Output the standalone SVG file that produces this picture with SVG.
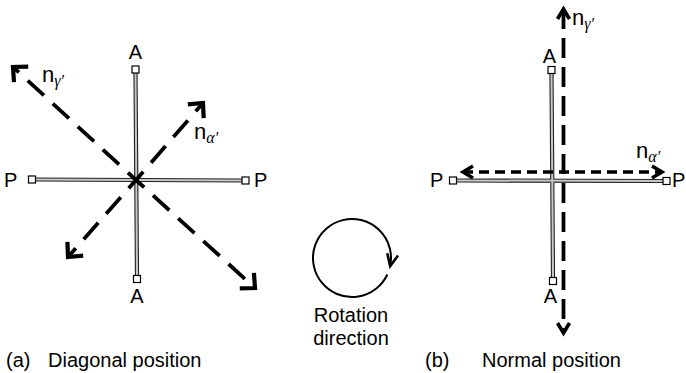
<svg xmlns="http://www.w3.org/2000/svg" width="686" height="373" viewBox="0 0 686 373">
<style>
text{font-family:"Liberation Sans",Arial,sans-serif;font-size:20px;fill:#000}
.lbl{font-size:22px}
.sub{font-family:"Liberation Serif","DejaVu Serif",serif;font-style:italic;font-size:16px}
.sq{fill:#fff;stroke:#000;stroke-width:1.2}
.rod-o{stroke:#222;stroke-width:4.2;fill:none}
.rod-i{stroke:#c8c8c8;stroke-width:2;fill:none}
.dashL{stroke:#000;stroke-width:3.8;fill:none;stroke-dasharray:22 12;stroke-dashoffset:11;marker-end:url(#chev)}
.dashV{stroke:#000;stroke-width:3.8;fill:none;stroke-dasharray:20 9;marker-start:url(#chevS);marker-end:url(#chevS)}
.dashH{stroke:#000;stroke-width:3.6;fill:none;stroke-dasharray:10 6;marker-start:url(#chevS);marker-end:url(#chevS)}
</style>
<defs>
<marker id="chev" markerUnits="userSpaceOnUse" viewBox="-16 -14 20 28" refX="0" refY="0" markerWidth="20" markerHeight="28" orient="auto-start-reverse">
<path d="M-11 -10.5 L0 0 L-11 10.5" fill="none" stroke="#000" stroke-width="4.2"/>
</marker>
<marker id="chevS" markerUnits="userSpaceOnUse" viewBox="-16 -10 20 20" refX="0" refY="0" markerWidth="20" markerHeight="20" orient="auto-start-reverse">
<path d="M-10 -6 L0 0 L-10 6" fill="none" stroke="#000" stroke-width="3.6"/>
</marker>
<marker id="chevR" markerUnits="userSpaceOnUse" viewBox="-16 -10 20 20" refX="0" refY="0" markerWidth="20" markerHeight="20" orient="auto">
<path d="M-12 -5.5 L0 0 L-12 5.5" fill="none" stroke="#000" stroke-width="2.6"/>
</marker>
</defs>

<g id="connectors">
<path class="rod-o" d="M135.5 73 L137 276 M35.5 179.5 L242 180.5"/>
<path class="rod-i" d="M135.5 73 L137 276 M35.5 179.5 L242 180.5"/>
<path class="dashL" d="M136 180 L13 67"/>
<path class="dashL" d="M136 180 L255 288"/>
<path class="dashL" d="M136 180 L203 103"/>
<path class="dashL" d="M136 180 L68 257"/>
<path class="rod-o" d="M551.5 74 L553 277 M457 180.5 L663 181"/>
<path class="rod-i" d="M551.5 74 L553 277 M457 180.5 L663 181"/>
<path class="dashV" d="M563.5 9 L563.5 333"/>
<path class="dashH" d="M463 172 L662 172"/>
<path d="M387.35 274.48 A39 39 0 1 1 390.15 266.11" fill="none" stroke="#000" stroke-width="2" marker-end="url(#chevR)"/>
</g>

<g id="a-analyzer-top"><rect class="sq" x="132" y="66" width="7" height="7"/><text x="135.5" y="59" text-anchor="middle">A</text></g>
<g id="a-analyzer-bottom"><rect class="sq" x="133.5" y="275.5" width="7" height="7"/><text x="137" y="303" text-anchor="middle">A</text></g>
<g id="a-polarizer-left"><rect class="sq" x="28.5" y="176" width="7" height="7"/><text x="4" y="187">P</text></g>
<g id="a-polarizer-right"><rect class="sq" x="242" y="177" width="7" height="7"/><text x="254" y="187">P</text></g>
<g id="a-ngamma"><text class="lbl" x="42" y="82">n<tspan class="sub" dy="4">γ′</tspan></text></g>
<g id="a-nalpha"><text class="lbl" x="194" y="139">n<tspan class="sub" dy="4">α′</tspan></text></g>

<g id="b-analyzer-top"><rect class="sq" x="548" y="66.5" width="7" height="7"/><text x="549.5" y="63" text-anchor="middle">A</text></g>
<g id="b-analyzer-bottom"><rect class="sq" x="549.5" y="277.5" width="7" height="7"/><text x="550.5" y="303" text-anchor="middle">A</text></g>
<g id="b-polarizer-left"><rect class="sq" x="449.5" y="177" width="7" height="7"/><text x="430" y="187">P</text></g>
<g id="b-polarizer-right"><rect class="sq" x="663" y="177.5" width="7" height="7"/><text x="672" y="187">P</text></g>
<g id="b-ngamma"><text class="lbl" x="572" y="25">n<tspan class="sub" dy="4">γ′</tspan></text></g>
<g id="b-nalpha"><text class="lbl" x="636" y="158">n<tspan class="sub" dy="4">α′</tspan></text></g>

<g id="rotation-label">
<text x="351" y="322" text-anchor="middle">Rotation</text>
<text x="351" y="345" text-anchor="middle">direction</text>
</g>
<g id="captions">
<text x="6" y="367">(a)</text><text x="48" y="367">Diagonal position</text>
<text x="425" y="367">(b)</text><text x="482" y="367">Normal position</text>
</g>
</svg>
